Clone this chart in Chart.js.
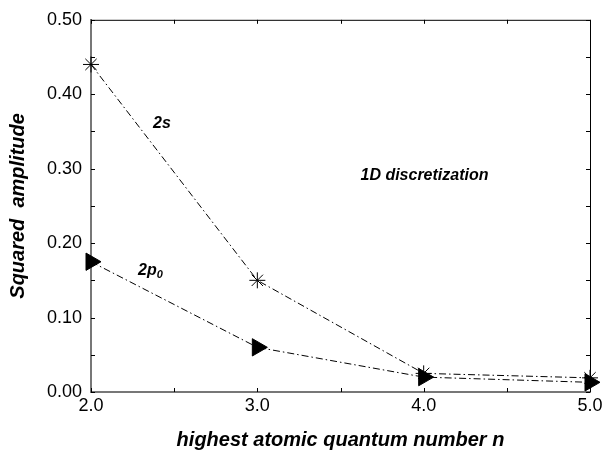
<!DOCTYPE html>
<html>
<head>
<meta charset="utf-8">
<script src="https://cdn.jsdelivr.net/npm/chart.js@4.4.0/dist/chart.umd.min.js"></script>
<style>
  html, body { margin: 0; padding: 0; background: #fff; }
  #wrap { width: 607px; height: 452px; }
</style>
</head>
<body>
<div id="wrap"><canvas id="ampChart" width="607" height="452"></canvas></div>
<script>
// data
var nValues = [2.0, 3.0, 4.0, 5.0];
var amp2s = [0.44, 0.15, 0.025, 0.019];
var amp2p0 = [0.175, 0.06, 0.02, 0.013];
var yTicks = [0.0, 0.1, 0.2, 0.3, 0.4, 0.5];
var xTicks = [2.0, 3.0, 4.0, 5.0];

var fam = '"Liberation Sans", Arial, sans-serif';

function toPoints(xs, ys) {
    return xs.map(function (x, i) { return { x: x, y: ys[i] }; });
}

// frame + inward ticks + text labels inside the plot
const framePlugin = {
    id: 'frame',
    afterDatasetsDraw(chart) {
        const c = chart.ctx;
        const a = chart.chartArea;
        const xs = chart.scales.x, ys = chart.scales.y;
        c.save();
        // top and right edges are thin black
        c.strokeStyle = '#000';
        c.lineWidth = 1;
        c.beginPath();
        c.moveTo(a.left, a.top + 0.5);
        c.lineTo(a.right + 0.5, a.top + 0.5);
        c.lineTo(a.right + 0.5, a.bottom);
        c.stroke();
        // tick marks pointing in
        const tl = 4;
        c.beginPath();
        for (let v = 2.0; v <= 5.001; v += 0.5) {
            const px = Math.round(xs.getPixelForValue(v)) + 0.5;
            c.moveTo(px, a.bottom); c.lineTo(px, a.bottom - tl);
            c.moveTo(px, a.top); c.lineTo(px, a.top + tl);
        }
        for (let v = 0; v <= 0.501; v += 0.05) {
            const py = Math.round(ys.getPixelForValue(v)) + 0.5;
            c.moveTo(a.left, py); c.lineTo(a.left + tl, py);
            c.moveTo(a.right, py); c.lineTo(a.right - tl, py);
        }
        c.stroke();
        // series labels
        c.fillStyle = '#000';
        c.font = 'italic bold 16px ' + fam;
        c.textBaseline = 'middle';
        c.textAlign = 'left';
        c.fillText('2s', xs.getPixelForValue(2.373), ys.getPixelForValue(0.361));
        const px0 = xs.getPixelForValue(2.283), py0 = ys.getPixelForValue(0.163);
        c.fillText('2p', px0, py0);
        const w = c.measureText('2p').width;
        c.font = 'italic bold 11px ' + fam;
        c.fillText('0', px0 + w, py0 + 4);
        c.font = 'italic bold 16px ' + fam;
        c.textAlign = 'center';
        c.fillText('1D discretization', xs.getPixelForValue(4.005), ys.getPixelForValue(0.291));
        c.restore();
    }
};

const ctx = document.getElementById('ampChart').getContext('2d');
const ampChart = new Chart(ctx, {
    type: 'scatter',
    data: {
        datasets: [{
            label: '2s',
            data: toPoints(nValues, amp2s),
            showLine: true,
            borderColor: '#000',
            borderWidth: 1,
            borderDash: [7, 3, 1.5, 3],
            pointStyle: 'star',
            pointRadius: 8,
            pointBorderWidth: 1,
            pointBorderColor: '#000',
            pointBackgroundColor: '#000'
        }, {
            label: '2p0',
            data: toPoints(nValues, amp2p0),
            showLine: true,
            borderColor: '#000',
            borderWidth: 1,
            borderDash: [7, 3, 1.5, 3],
            pointStyle: 'triangle',
            rotation: 90,
            pointRadius: 10,
            pointBorderWidth: 1,
            pointBorderColor: '#000',
            pointBackgroundColor: '#000'
        }]
    },
    options: {
        responsive: false,
        animation: false,
        clip: false,
        layout: { padding: { top: 14, right: 17, left: 0, bottom: 0 } },
        plugins: {
            legend: { display: false },
            tooltip: { enabled: false }
        },
        scales: {
            x: {
                type: 'linear',
                min: 2, max: 5,
                afterFit: function (scale) { scale.height = 60; },
                afterBuildTicks: function (scale) {
                    scale.ticks = xTicks.map(function (v) { return { value: v }; });
                },
                grid: { display: false, drawTicks: false },
                border: { display: true, color: '#777', width: 2 },
                ticks: {
                    padding: 3,
                    color: '#000',
                    font: { family: fam, size: 18 },
                    callback: function (v) { return v.toFixed(1); }
                },
                title: {
                    display: true,
                    text: 'highest atomic quantum number n',
                    color: '#000',
                    font: { family: fam, size: 20, style: 'italic', weight: 'bold' },
                    padding: { top: 0, bottom: 0 }
                }
            },
            y: {
                type: 'linear',
                min: 0, max: 0.5,
                afterFit: function (scale) { scale.width = 91; },
                afterBuildTicks: function (scale) {
                    scale.ticks = yTicks.map(function (v) { return { value: v }; });
                },
                grid: { display: false, drawTicks: false },
                border: { display: true, color: '#777', width: 2 },
                ticks: {
                    padding: 9,
                    color: '#000',
                    font: { family: fam, size: 18 },
                    callback: function (v) { return v.toFixed(2); }
                },
                title: {
                    display: true,
                    text: 'Squared  amplitude',
                    color: '#000',
                    font: { family: fam, size: 20, style: 'italic', weight: 'bold' },
                    padding: { top: 6, bottom: 0 }
                }
            }
        }
    },
    plugins: [framePlugin]
});
</script>
</body>
</html>
